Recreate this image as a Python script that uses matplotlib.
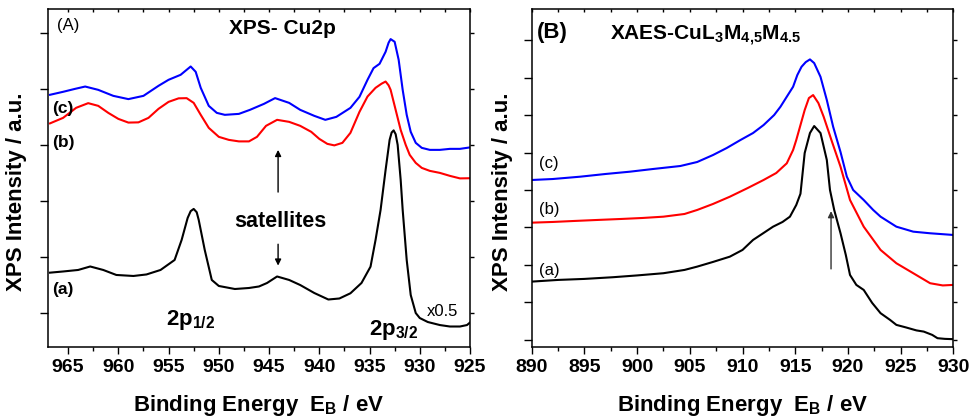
import numpy as np
import matplotlib
matplotlib.use("Agg")
import matplotlib.pyplot as plt
from matplotlib.ticker import MultipleLocator

plt.rcParams['font.family'] = ['Liberation Sans', 'DejaVu Sans']
plt.rcParams['font.weight'] = 'bold'
plt.rcParams['mathtext.fontset'] = 'custom'
plt.rcParams['mathtext.rm'] = 'Liberation Sans'
plt.rcParams['mathtext.bf'] = 'Liberation Sans:bold'

# ---------------- Panel A: XPS Cu2p (energy eV, intensity a.u.) ----------------
cu2p_a = [(966.8, 1.724), (965.5, 1.745), (964.0, 1.772), (962.8, 1.834), (961.5, 1.772),
          (960.2, 1.683), (958.5, 1.665), (957.2, 1.692), (955.8, 1.772), (954.4, 1.950),
          (953.7, 2.307), (953.1, 2.699), (952.8, 2.820), (952.5, 2.859), (952.2, 2.800),
          (952.0, 2.663), (951.4, 2.128), (950.7, 1.594), (950.0, 1.487), (948.4, 1.433),
          (947.0, 1.451), (946.0, 1.478), (945.2, 1.540), (944.2, 1.656), (943.0, 1.594),
          (941.9, 1.504), (940.5, 1.362), (939.1, 1.246), (938.0, 1.264), (936.9, 1.357),
          (935.8, 1.540), (934.9, 1.831), (934.4, 2.307), (933.9, 2.841), (933.4, 3.554),
          (933.0, 4.089), (932.8, 4.220), (932.6, 4.258), (932.4, 4.190), (932.2, 4.000),
          (931.9, 3.376), (931.7, 2.841), (931.3, 1.950), (930.9, 1.326), (930.4, 1.005),
          (930.0, 0.916), (929.2, 0.845), (928.0, 0.791), (927.0, 0.765), (926.0, 0.765),
          (925.3, 0.791), (925.0, 0.836)]

cu2p_b = [(966.8, 4.383), (965.5, 4.481), (964.2, 4.660), (963.0, 4.743), (962.0, 4.695),
          (961.0, 4.570), (960.0, 4.463), (959.0, 4.397), (958.0, 4.401), (957.0, 4.481),
          (956.0, 4.642), (955.0, 4.766), (954.0, 4.829), (953.2, 4.832), (952.5, 4.748),
          (951.8, 4.535), (951.0, 4.303), (950.0, 4.143), (949.0, 4.089), (948.0, 4.062),
          (947.0, 4.062), (946.2, 4.143), (945.3, 4.339), (944.2, 4.446), (943.0, 4.410),
          (941.9, 4.339), (940.8, 4.232), (940.0, 4.107), (939.2, 4.018), (938.5, 3.991),
          (937.7, 4.036), (936.9, 4.214), (936.0, 4.588), (935.2, 4.861), (934.4, 5.016),
          (933.8, 5.090), (933.4, 5.128), (933.1, 5.060), (932.9, 4.980), (932.4, 4.624),
          (931.9, 4.267), (931.4, 4.000), (931.0, 3.822), (930.4, 3.679), (929.8, 3.590),
          (929.0, 3.537), (928.0, 3.501), (927.0, 3.448), (926.0, 3.403), (925.0, 3.406)]

cu2p_c = [(966.8, 4.892), (965.5, 4.945), (964.3, 4.998), (963.3, 5.039), (962.0, 4.980),
          (960.5, 4.873), (959.0, 4.815), (957.5, 4.873), (956.0, 5.052), (955.0, 5.159),
          (953.8, 5.248), (952.8, 5.396), (952.3, 5.301), (951.8, 5.016), (951.0, 4.695),
          (950.2, 4.570), (949.4, 4.535), (948.0, 4.552), (946.9, 4.624), (945.5, 4.731),
          (944.4, 4.833), (943.0, 4.748), (941.9, 4.624), (940.5, 4.517), (939.4, 4.446),
          (938.3, 4.499), (936.9, 4.659), (936.0, 4.856), (935.2, 5.159), (934.6, 5.367),
          (934.0, 5.444), (933.4, 5.658), (933.1, 5.820), (932.9, 5.884), (932.5, 5.836),
          (932.1, 5.515), (931.7, 4.980), (931.3, 4.535), (930.9, 4.232), (930.4, 4.036),
          (929.8, 3.947), (929.0, 3.911), (928.0, 3.911), (927.0, 3.929), (926.0, 3.929),
          (925.0, 3.955)]

# ---------------- Panel B: XAES Cu LMM ----------------
lmm_a = [(890.0, 2.555), (892.5, 2.600), (895.0, 2.627), (897.7, 2.672), (900.0, 2.720),
         (902.5, 2.779), (904.5, 2.867), (905.7, 2.955), (907.2, 3.080), (908.8, 3.221),
         (910.0, 3.400), (911.0, 3.667), (912.0, 3.853), (912.9, 4.021), (913.8, 4.147),
         (914.5, 4.288), (915.1, 4.600), (915.5, 4.900), (915.9, 5.987), (916.4, 6.520),
         (916.8, 6.707), (917.4, 6.520), (918.0, 5.800), (918.3, 5.000), (918.7, 4.467),
         (919.3, 3.845), (919.8, 3.267), (920.2, 2.733), (920.8, 2.467), (921.5, 2.333),
         (922.3, 1.987), (923.1, 1.712), (924.0, 1.533), (924.6, 1.400), (925.5, 1.333),
         (926.5, 1.253), (927.2, 1.221), (928.0, 1.133), (928.5, 1.045), (929.2, 1.027),
         (930.0, 1.019)]

lmm_b = [(890.0, 4.128), (892.0, 4.147), (894.0, 4.173), (896.2, 4.200), (898.5, 4.227),
         (900.5, 4.253), (902.5, 4.288), (904.5, 4.360), (905.7, 4.467), (907.2, 4.627),
         (908.8, 4.821), (910.5, 5.053), (912.0, 5.267), (913.2, 5.453), (914.2, 5.712),
         (914.8, 6.067), (915.1, 6.333), (915.5, 6.733), (915.9, 7.133), (916.3, 7.453),
         (916.7, 7.533), (917.2, 7.320), (917.7, 6.955), (918.5, 6.280), (919.3, 5.621),
         (920.2, 4.733), (921.5, 4.021), (923.1, 3.400), (924.6, 3.045), (926.2, 2.779),
         (927.8, 2.512), (929.0, 2.453), (930.0, 2.467)]

lmm_c = [(890.0, 5.267), (892.0, 5.293), (894.6, 5.355), (897.0, 5.427), (899.3, 5.488),
         (901.5, 5.560), (904.1, 5.640), (905.7, 5.747), (907.2, 5.933), (908.5, 6.120),
         (909.8, 6.333), (911.0, 6.520), (912.0, 6.733), (913.0, 7.000), (913.6, 7.221),
         (914.3, 7.533), (914.8, 7.755), (915.2, 8.067), (915.6, 8.288), (916.0, 8.413),
         (916.4, 8.485), (916.8, 8.387), (917.4, 8.021), (918.0, 7.400), (918.6, 6.688),
         (919.3, 6.013), (919.9, 5.355), (920.5, 5.000), (921.5, 4.733), (922.4, 4.467),
         (923.1, 4.288), (924.6, 4.021), (926.2, 3.888), (927.8, 3.845), (930.0, 3.800)]

series_colors = {'a': 'black', 'b': '#FF0000', 'c': '#0000FF'}
xtick_a = [965, 960, 955, 950, 945, 940, 935, 930, 925]
xtick_b = [890, 895, 900, 905, 910, 915, 920, 925, 930]

W, H = 971, 417
fig = plt.figure(figsize=(W / 100, H / 100), dpi=100)
axA = fig.add_axes([48 / W, 1 - 347 / H, 422 / W, 338 / H])
axB = fig.add_axes([531.7 / W, 1 - 347 / H, 421.6 / W, 338 / H])


def draw(ax, data, col):
    e, i = zip(*data)
    ax.plot(e, i, color=col, lw=1.5, solid_joinstyle='round')


for d, k in [(cu2p_a, 'a'), (cu2p_b, 'b'), (cu2p_c, 'c')]:
    draw(axA, d, series_colors[k])
for d, k in [(lmm_a, 'a'), (lmm_b, 'b'), (lmm_c, 'c')]:
    draw(axB, d, series_colors[k])

axA.set_xlim(967, 925)
axA.set_ylim(0.4, 6.42)
axB.set_xlim(890, 930)
axB.set_ylim(0.81, 9.83)
axA.set_xticks(xtick_a)
axB.set_xticks(xtick_b)
axA.set_yticks(np.arange(1, 7))
axB.set_yticks(np.arange(1, 10))

for ax in (axA, axB):
    ax.xaxis.set_minor_locator(MultipleLocator(2.5))
    ax.set_yticklabels([])
    for s in ax.spines.values():
        s.set_linewidth(1.1)
    ax.tick_params(axis='x', which='major', direction='out', length=5, width=1,
                   labelsize=14, pad=4, top=True)
    ax.tick_params(axis='x', which='minor', direction='out', length=3, width=1, top=True)
    ax.tick_params(axis='x', which='both', labeltop=False)
    ax.tick_params(axis='y', which='major', direction='out', length=6, width=1, right=True)
    ax.set_xlabel(r'Binding Energy  E$_\mathbf{B}$ / eV', fontsize=16, fontweight='bold')
    ax.set_ylabel('XPS Intensity / a.u.', fontsize=16, fontweight='bold')

# top ticks inward & short, right ticks short
for ax in (axA, axB):
    for t in ax.xaxis.get_major_ticks() + ax.xaxis.get_minor_ticks():
        t.tick2line.set_marker(3)
        t.tick2line.set_markersize(2.5)
    for t in ax.yaxis.get_major_ticks():
        t.tick2line.set_markersize(3)

axA.xaxis.set_label_coords(0.5, -0.135)
axB.xaxis.set_label_coords(0.5, -0.135)
axA.yaxis.set_label_coords(-0.05, 0.46)
axB.yaxis.set_label_coords(-0.044, 0.46)

# ---- Panel A annotations ----
axA.text(966.1, 6.12, '(A)', fontsize=12, fontweight='normal', ha='left', va='center')
axA.text(943.7, 6.07, 'XPS- Cu2p', fontsize=15, fontweight='bold', ha='center', va='center')
axA.text(966.6, 4.64, '(c)', fontsize=12.5, fontweight='bold', ha='left', va='center')
axA.text(966.6, 4.05, '(b)', fontsize=12.5, fontweight='bold', ha='left', va='center')
axA.text(966.6, 1.43, '(a)', fontsize=12.5, fontweight='bold', ha='left', va='center')
axA.text(943.9, 2.63, 'satellites', fontsize=15.5, fontweight='bold', ha='center', va='center')
axA.text(955.3, 0.79, r'2p$_\mathbf{1/2}$', fontsize=16, fontweight='bold', ha='left', va='baseline')
axA.text(935.1, 0.61, r'2p$_\mathbf{3/2}$', fontsize=16, fontweight='bold', ha='left', va='baseline')
axA.text(929.3, 1.04, 'x0.5', fontsize=12, fontweight='normal', ha='left', va='center')
axA.annotate('', xy=(944.1, 3.96), xytext=(944.1, 3.11),
             arrowprops=dict(arrowstyle='-|>', color='black', lw=1, mutation_scale=9))
axA.annotate('', xy=(944.1, 1.80), xytext=(944.1, 2.28),
             arrowprops=dict(arrowstyle='-|>', color='black', lw=1, mutation_scale=9))

# ---- Panel B annotations ----
axB.text(890.47, 9.21, '(B)', fontsize=16, fontweight='bold', ha='left', va='center')
axB.text(897.4, 9.0, r'XAES-CuL$_\mathbf{3}$M$_\mathbf{4{,}5}$M$_\mathbf{4.5}$', fontsize=15,
         fontweight='bold', ha='left', va='baseline')
axB.text(890.7, 5.72, '(c)', fontsize=12, fontweight='normal', ha='left', va='center')
axB.text(890.7, 4.49, '(b)', fontsize=12, fontweight='normal', ha='left', va='center')
axB.text(890.7, 2.84, '(a)', fontsize=12, fontweight='normal', ha='left', va='center')
axB.annotate('', xy=(918.4, 4.51), xytext=(918.4, 2.82),
             arrowprops=dict(arrowstyle='-|>', color='#333333', lw=1, mutation_scale=9))

fig.savefig('out.png', dpi=100)
